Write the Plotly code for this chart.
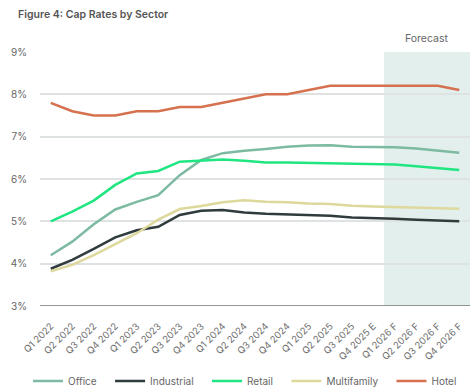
import plotly.graph_objects as go

quarters = ["Q1 2022", "Q2 2022", "Q3 2022", "Q4 2022",
            "Q1 2023", "Q2 2023", "Q3 2023", "Q4 2023",
            "Q1 2024", "Q2 2024", "Q3 2024", "Q4 2024",
            "Q1 2025", "Q2 2025", "Q3 2025", "Q4 2025 E",
            "Q1 2026 F", "Q2 2026 F", "Q3 2026 F", "Q4 2026 F"]

office = [4.20, 4.52, 4.93, 5.28, 5.46, 5.62, 6.09, 6.45, 6.61, 6.67,
          6.71, 6.76, 6.79, 6.80, 6.76, 6.75, 6.75, 6.72, 6.67, 6.62]
industrial = [3.88, 4.09, 4.35, 4.62, 4.79, 4.87, 5.15, 5.25, 5.27, 5.21,
              5.18, 5.16, 5.14, 5.13, 5.09, 5.08, 5.06, 5.04, 5.02, 5.00]
retail = [5.00, 5.23, 5.49, 5.86, 6.13, 6.19, 6.41, 6.43, 6.46, 6.43,
          6.39, 6.39, 6.38, 6.37, 6.36, 6.35, 6.34, 6.30, 6.26, 6.21]
multifamily = [3.82, 3.97, 4.20, 4.46, 4.72, 5.04, 5.29, 5.36, 5.45, 5.50,
               5.46, 5.45, 5.42, 5.41, 5.37, 5.35, 5.34, 5.33, 5.32, 5.30]
hotel = [7.8, 7.6, 7.5, 7.5, 7.6, 7.6, 7.7, 7.7, 7.8, 7.9,
         8.0, 8.0, 8.1, 8.2, 8.2, 8.2, 8.2, 8.2, 8.2, 8.1]

series_names = ["Office", "Industrial", "Retail", "Multifamily", "Hotel"]
series_values = [office, industrial, retail, multifamily, hotel]
colors = ["#7dbaa2", "#2f3b3d", "#1fe681", "#ddd89c", "#d6714f"]

y_ticks = [3, 4, 5, 6, 7, 8, 9]
y_tick_labels = ["3%", "4%", "5%", "6%", "7%", "8%", "9%"]

forecast_label = "Forecast"
forecast_start = 15.5
forecast_end = 19.5

font_family = "Inter, Roboto, sans-serif"
legend_pad = "\u00a0\u00a0\u00a0"

fig = go.Figure()
for i, (name, vals, col) in enumerate(zip(series_names, series_values, colors)):
    label = name + (legend_pad if i < len(series_names) - 1 else "")
    fig.add_trace(go.Scatter(
        x=list(range(len(quarters))), y=vals, name=label, mode="lines",
        line=dict(color=col, width=2.5),
    ))

fig.add_shape(type="rect", xref="x", yref="y",
              x0=forecast_start, x1=forecast_end, y0=3, y1=9,
              fillcolor="#e3efec", line=dict(width=0), layer="below")

fig.add_annotation(text=forecast_label, xref="x", yref="paper",
                   x=(forecast_start + forecast_end) / 2, y=1,
                   yanchor="bottom", yshift=5, showarrow=False,
                   font=dict(size=10.5, color="#666666", family=font_family))

fig.update_layout(
    width=476, height=392,
    margin=dict(l=40, r=6, t=52, b=86, autoexpand=False),
    paper_bgcolor="white", plot_bgcolor="white",
    font=dict(family=font_family, color="#666666", size=10),
    title=dict(text="Figure 4: Cap Rates by Sector", x=0.038, xanchor="left",
               y=1 - 14.5 / 392, yanchor="middle",
               font=dict(size=10.5, color="#555555", family=font_family, weight=600)),
    showlegend=True,
    legend=dict(orientation="h", xref="container", yref="container",
                x=28 / 476, xanchor="left", y=1 - 381 / 392, yanchor="middle",
                font=dict(size=10, color="#666666", family=font_family),
                itemwidth=30, bgcolor="rgba(0,0,0,0)"),
    xaxis=dict(
        tickmode="array", tickvals=list(range(len(quarters))), ticktext=quarters,
        range=[-0.5, len(quarters) - 0.5], tickangle=-45,
        showgrid=False, zeroline=False, showline=False, automargin=False,
        ticks="outside", ticklen=10, tickcolor="rgba(0,0,0,0)",
        tickfont=dict(size=9.5, color="#707070"),
    ),
    yaxis=dict(
        range=[3, 9], tickmode="array", tickvals=y_ticks, ticktext=y_tick_labels,
        showgrid=True, gridcolor="#dfe2e2", gridwidth=1.5,
        zeroline=False, showline=False, automargin=False,
        ticks="outside", ticklen=10, tickcolor="rgba(0,0,0,0)",
        tickfont=dict(size=10, color="#666666"),
    ),
)

fig.add_shape(type="line", xref="paper", yref="y", x0=0, x1=1, y0=3, y1=3,
              line=dict(color="#6f7575", width=1.5))

fig.write_html("out.html", config={"displayModeBar": False},
               post_script="document.body.style.margin='0';")
